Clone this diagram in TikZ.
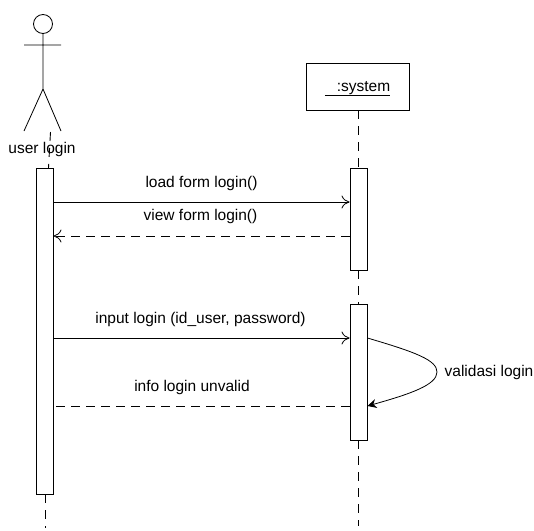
\documentclass[tikz,border=0pt]{standalone}
\usepackage{fontspec}
\setmainfont{Liberation Sans}
\usetikzlibrary{arrows.meta}
\tikzset{
bar/.style={draw,fill=white,line width=.9pt,minimum width=17pt,inner sep=0pt},
txt/.style={font=\fontsize{15.5}{17}\selectfont,inner sep=0pt,anchor=base},
open/.style={-{To[length=8pt,width=13pt,open]},line width=.8pt},
life/.style={dash pattern=on 9pt off 7pt,line width=.9pt}
}
\begin{document}
\begin{tikzpicture}[x=1pt,y=-1pt,line width=.8pt]
\useasboundingbox (0,0) rectangle (534,530);
% actor
\node (head) at (43,24) [draw,circle,minimum size=19pt,inner sep=0pt] {};
\coordinate (hip) at (43,89);
\coordinate (footl) at (24,131);
\coordinate (footr) at (61,131);
\coordinate (arml) at (24,45);
\coordinate (armr) at (61,45);
\draw (head)--(hip) (arml)--(armr) (footl)--(hip)--(footr);
\node (user) at (42,153) [txt] {user login};
% lifelines
\coordinate (ut) at (50.5,132);
\coordinate (ub) at (48.5,168);
\coordinate (ue) at (45,528);
\node (sys) at (358,86.5) [draw,minimum width=103pt,minimum height=47pt,line width=.9pt,inner sep=0pt] {};
\node (systxt) at (357.5,91) [txt] {\underline{\hspace{12pt}:system}};
\coordinate (se) at (358,526);
\draw[life] (ut)--(ub);
\draw[life] (sys.south)--(358,168);
\draw[life] (358,270)--(358,304);
\draw[life] (358,440)--(se);
\draw[life] (45,494)--(ue);
% bars
\node (ubar) at (44.5,331) [bar,minimum height=326pt] {};
\node (sbara) at (358.5,219) [bar,minimum height=102pt] {};
\node (sbarb) at (358.5,372) [bar,minimum height=136pt] {};
% messages
\coordinate (ma) at (ubar.east|-0,202);
\coordinate (mb) at (sbara.west|-0,202);
\coordinate (mc) at (sbara.west|-0,236);
\coordinate (md) at (ubar.east|-0,236);
\coordinate (me) at (ubar.east|-0,338);
\coordinate (mf) at (sbarb.west|-0,338);
\coordinate (mg) at (sbarb.west|-0,406);
\coordinate (mh) at (ubar.east|-0,406);
\coordinate (sa) at (sbarb.east|-0,338);
\coordinate (sb) at (sbarb.east|-0,406);
\draw[open] (ma)--(mb);
\draw[open,dash pattern=on 9pt off 6pt] (mc)--(md);
\draw[open] (me)--(mf);
\draw[line width=.9pt,dash pattern=on 9pt off 6pt] (mg)--(mh);
\draw[-{Stealth[length=9pt,width=9pt]}] (sa).. controls (415,352) and (437,360) ..(437,372).. controls (437,385) and (410,394) ..(sb);
% labels
\node (la) at (201.5,187) [txt] {load form login()};
\node (lb) at (200.5,220) [txt] {view form login()};
\node (lc) at (200.5,323) [txt] {input login (id\_user, password)};
\node (ld) at (192,391) [txt] {info login unvalid};
\node (le) at (489,376) [txt] {validasi login};
\end{tikzpicture}
\end{document}
